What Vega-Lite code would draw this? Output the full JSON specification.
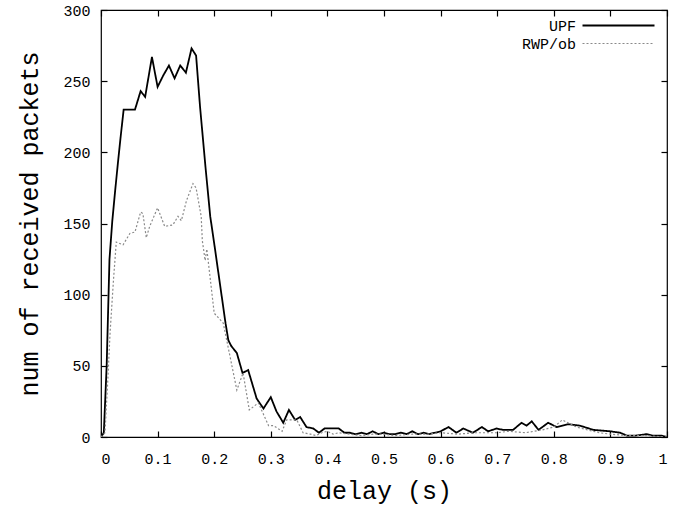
{
  "$schema": "https://vega.github.io/schema/vega-lite/v6.json",
  "width": 566,
  "height": 427,
  "autosize": "none",
  "padding": {"left": 101, "top": 10, "right": 14, "bottom": 69},
  "background": "white",
  "config": {
    "view": {"stroke": "black", "strokeWidth": 1.2},
    "font": "Liberation Mono",
    "axis": {"grid": false, "domain": false, "tickColor": "black", "tickWidth": 1.2, "labelColor": "black", "titleColor": "black", "labelFont": "Liberation Mono", "titleFont": "Liberation Mono", "labelFontWeight": "normal", "titleFontWeight": "normal"}
  },
  "datasets": {
    "pts": [
      {"delay": 0, "n": 0, "s": "UPF"}, {"delay": 0.005, "n": 3, "s": "UPF"}, {"delay": 0.01, "n": 50, "s": "UPF"}, {"delay": 0.015, "n": 125, "s": "UPF"}, {"delay": 0.02, "n": 152, "s": "UPF"}, {"delay": 0.025, "n": 173, "s": "UPF"}, {"delay": 0.03, "n": 193, "s": "UPF"}, {"delay": 0.035, "n": 212, "s": "UPF"}, {"delay": 0.04, "n": 230, "s": "UPF"}, {"delay": 0.05, "n": 230, "s": "UPF"}, {"delay": 0.06, "n": 230, "s": "UPF"}, {"delay": 0.07, "n": 243, "s": "UPF"}, {"delay": 0.078, "n": 239, "s": "UPF"}, {"delay": 0.09, "n": 267, "s": "UPF"}, {"delay": 0.1, "n": 246, "s": "UPF"}, {"delay": 0.11, "n": 254, "s": "UPF"}, {"delay": 0.12, "n": 261, "s": "UPF"}, {"delay": 0.13, "n": 252, "s": "UPF"}, {"delay": 0.14, "n": 261, "s": "UPF"}, {"delay": 0.15, "n": 256, "s": "UPF"}, {"delay": 0.16, "n": 273, "s": "UPF"}, {"delay": 0.168, "n": 268, "s": "UPF"}, {"delay": 0.175, "n": 232, "s": "UPF"}, {"delay": 0.185, "n": 188, "s": "UPF"}, {"delay": 0.193, "n": 155, "s": "UPF"}, {"delay": 0.2, "n": 136, "s": "UPF"}, {"delay": 0.21, "n": 108, "s": "UPF"}, {"delay": 0.22, "n": 80, "s": "UPF"}, {"delay": 0.225, "n": 68, "s": "UPF"}, {"delay": 0.23, "n": 64, "s": "UPF"}, {"delay": 0.24, "n": 59, "s": "UPF"}, {"delay": 0.25, "n": 45, "s": "UPF"}, {"delay": 0.26, "n": 47, "s": "UPF"}, {"delay": 0.275, "n": 27, "s": "UPF"}, {"delay": 0.287, "n": 20, "s": "UPF"}, {"delay": 0.3, "n": 28, "s": "UPF"}, {"delay": 0.31, "n": 18, "s": "UPF"}, {"delay": 0.322, "n": 10, "s": "UPF"}, {"delay": 0.332, "n": 19, "s": "UPF"}, {"delay": 0.343, "n": 12, "s": "UPF"}, {"delay": 0.352, "n": 14, "s": "UPF"}, {"delay": 0.363, "n": 7, "s": "UPF"}, {"delay": 0.375, "n": 6, "s": "UPF"}, {"delay": 0.385, "n": 3, "s": "UPF"}, {"delay": 0.395, "n": 6, "s": "UPF"}, {"delay": 0.42, "n": 6, "s": "UPF"}, {"delay": 0.43, "n": 3, "s": "UPF"}, {"delay": 0.44, "n": 3, "s": "UPF"}, {"delay": 0.45, "n": 2, "s": "UPF"}, {"delay": 0.46, "n": 3, "s": "UPF"}, {"delay": 0.47, "n": 2, "s": "UPF"}, {"delay": 0.48, "n": 4, "s": "UPF"}, {"delay": 0.49, "n": 2, "s": "UPF"}, {"delay": 0.5, "n": 3, "s": "UPF"}, {"delay": 0.51, "n": 2, "s": "UPF"}, {"delay": 0.52, "n": 2, "s": "UPF"}, {"delay": 0.53, "n": 3, "s": "UPF"}, {"delay": 0.54, "n": 2, "s": "UPF"}, {"delay": 0.55, "n": 4, "s": "UPF"}, {"delay": 0.56, "n": 2, "s": "UPF"}, {"delay": 0.57, "n": 3, "s": "UPF"}, {"delay": 0.58, "n": 2, "s": "UPF"}, {"delay": 0.59, "n": 3, "s": "UPF"}, {"delay": 0.6, "n": 4, "s": "UPF"}, {"delay": 0.614, "n": 7, "s": "UPF"}, {"delay": 0.628, "n": 3, "s": "UPF"}, {"delay": 0.64, "n": 6, "s": "UPF"}, {"delay": 0.657, "n": 3, "s": "UPF"}, {"delay": 0.673, "n": 7, "s": "UPF"}, {"delay": 0.684, "n": 4, "s": "UPF"}, {"delay": 0.699, "n": 6, "s": "UPF"}, {"delay": 0.71, "n": 5, "s": "UPF"}, {"delay": 0.728, "n": 5, "s": "UPF"}, {"delay": 0.743, "n": 10, "s": "UPF"}, {"delay": 0.752, "n": 8, "s": "UPF"}, {"delay": 0.761, "n": 11, "s": "UPF"}, {"delay": 0.773, "n": 5, "s": "UPF"}, {"delay": 0.79, "n": 10, "s": "UPF"}, {"delay": 0.805, "n": 7, "s": "UPF"}, {"delay": 0.826, "n": 9, "s": "UPF"}, {"delay": 0.846, "n": 8, "s": "UPF"}, {"delay": 0.87, "n": 5, "s": "UPF"}, {"delay": 0.9, "n": 4, "s": "UPF"}, {"delay": 0.917, "n": 3, "s": "UPF"}, {"delay": 0.929, "n": 1, "s": "UPF"}, {"delay": 0.945, "n": 1, "s": "UPF"}, {"delay": 0.964, "n": 2, "s": "UPF"}, {"delay": 0.975, "n": 1, "s": "UPF"}, {"delay": 0.99, "n": 1, "s": "UPF"}, {"delay": 1, "n": 0, "s": "UPF"},
      {"delay": 0, "n": 0, "s": "RWP/ob"}, {"delay": 0.007, "n": 3, "s": "RWP/ob"}, {"delay": 0.012, "n": 40, "s": "RWP/ob"}, {"delay": 0.016, "n": 73, "s": "RWP/ob"}, {"delay": 0.022, "n": 110, "s": "RWP/ob"}, {"delay": 0.027, "n": 137, "s": "RWP/ob"}, {"delay": 0.039, "n": 135, "s": "RWP/ob"}, {"delay": 0.051, "n": 143, "s": "RWP/ob"}, {"delay": 0.06, "n": 144, "s": "RWP/ob"}, {"delay": 0.07, "n": 158, "s": "RWP/ob"}, {"delay": 0.074, "n": 157, "s": "RWP/ob"}, {"delay": 0.08, "n": 140, "s": "RWP/ob"}, {"delay": 0.086, "n": 148, "s": "RWP/ob"}, {"delay": 0.1, "n": 161, "s": "RWP/ob"}, {"delay": 0.1125, "n": 148, "s": "RWP/ob"}, {"delay": 0.127, "n": 149, "s": "RWP/ob"}, {"delay": 0.136, "n": 155, "s": "RWP/ob"}, {"delay": 0.142, "n": 152, "s": "RWP/ob"}, {"delay": 0.151, "n": 166, "s": "RWP/ob"}, {"delay": 0.1625, "n": 178, "s": "RWP/ob"}, {"delay": 0.168, "n": 175, "s": "RWP/ob"}, {"delay": 0.177, "n": 155, "s": "RWP/ob"}, {"delay": 0.179, "n": 138, "s": "RWP/ob"}, {"delay": 0.184, "n": 124, "s": "RWP/ob"}, {"delay": 0.187, "n": 132, "s": "RWP/ob"}, {"delay": 0.2, "n": 87, "s": "RWP/ob"}, {"delay": 0.216, "n": 80, "s": "RWP/ob"}, {"delay": 0.24, "n": 33, "s": "RWP/ob"}, {"delay": 0.251, "n": 45, "s": "RWP/ob"}, {"delay": 0.262, "n": 19, "s": "RWP/ob"}, {"delay": 0.278, "n": 24, "s": "RWP/ob"}, {"delay": 0.296, "n": 8, "s": "RWP/ob"}, {"delay": 0.305, "n": 8, "s": "RWP/ob"}, {"delay": 0.32, "n": 4, "s": "RWP/ob"}, {"delay": 0.328, "n": 12, "s": "RWP/ob"}, {"delay": 0.346, "n": 12, "s": "RWP/ob"}, {"delay": 0.357, "n": 3, "s": "RWP/ob"}, {"delay": 0.37, "n": 2, "s": "RWP/ob"}, {"delay": 0.38, "n": 1, "s": "RWP/ob"}, {"delay": 0.39, "n": 3, "s": "RWP/ob"}, {"delay": 0.4, "n": 4, "s": "RWP/ob"}, {"delay": 0.41, "n": 2, "s": "RWP/ob"}, {"delay": 0.42, "n": 3, "s": "RWP/ob"}, {"delay": 0.44, "n": 2, "s": "RWP/ob"}, {"delay": 0.46, "n": 1, "s": "RWP/ob"}, {"delay": 0.48, "n": 2, "s": "RWP/ob"}, {"delay": 0.5, "n": 2, "s": "RWP/ob"}, {"delay": 0.52, "n": 1, "s": "RWP/ob"}, {"delay": 0.55, "n": 2, "s": "RWP/ob"}, {"delay": 0.58, "n": 2, "s": "RWP/ob"}, {"delay": 0.6, "n": 3, "s": "RWP/ob"}, {"delay": 0.63, "n": 2, "s": "RWP/ob"}, {"delay": 0.66, "n": 3, "s": "RWP/ob"}, {"delay": 0.7, "n": 3, "s": "RWP/ob"}, {"delay": 0.72, "n": 4, "s": "RWP/ob"}, {"delay": 0.75, "n": 3, "s": "RWP/ob"}, {"delay": 0.78, "n": 5, "s": "RWP/ob"}, {"delay": 0.8, "n": 7, "s": "RWP/ob"}, {"delay": 0.815, "n": 12, "s": "RWP/ob"}, {"delay": 0.825, "n": 10, "s": "RWP/ob"}, {"delay": 0.84, "n": 7, "s": "RWP/ob"}, {"delay": 0.86, "n": 5, "s": "RWP/ob"}, {"delay": 0.88, "n": 3, "s": "RWP/ob"}, {"delay": 0.9, "n": 2, "s": "RWP/ob"}, {"delay": 0.93, "n": 1, "s": "RWP/ob"}, {"delay": 0.96, "n": 1, "s": "RWP/ob"}, {"delay": 1, "n": 0, "s": "RWP/ob"}
    ]
  },
  "data": {"name": "pts"},
  "layer": [
    {
      "mark": {"type": "line", "clip": true},
      "encoding": {
        "x": {"field": "delay", "type": "quantitative", "scale": {"domain": [0, 1], "nice": false, "zero": false},
          "axis": {"orient": "bottom", "title": "delay (s)", "values": [0, 0.1, 0.2, 0.3, 0.4, 0.5, 0.6, 0.7, 0.8, 0.9, 1], "tickSize": -6, "labelPadding": 20, "labelDx": 6, "labelFontSize": 15, "titleFontSize": 25, "titlePadding": 12, "labelExpr": "datum.value == 1 ? '1' : (datum.value == 0 ? '0' : format(datum.value, '.1f'))"}},
        "y": {"field": "n", "type": "quantitative", "scale": {"domain": [0, 300], "nice": false},
          "axis": {"orient": "left", "title": "num of received packets", "values": [0, 50, 100, 150, 200, 250, 300], "tickSize": -6, "labelPadding": 17, "labelFontSize": 15, "titleFontSize": 25, "titlePadding": 20}},
        "color": {"field": "s", "type": "nominal", "scale": {"domain": ["UPF", "RWP/ob"], "range": ["#000000", "#8a8a8a"]},
          "legend": {"title": null, "orient": "none", "legendX": 510, "legendY": 8, "padding": 0, "symbolType": "M-6,0H6", "symbolSize": 144, "symbolStrokeWidth": 1.5, "labelFontSize": 15, "labelFont": "Liberation Mono", "labelColor": "black", "labelAlign": "right", "labelOffset": -50, "rowPadding": 2}},
        "strokeDash": {"field": "s", "type": "nominal", "scale": {"domain": ["UPF", "RWP/ob"], "range": [[1, 0], [2, 2]]}, "legend": null},
        "strokeWidth": {"field": "s", "type": "nominal", "scale": {"domain": ["UPF", "RWP/ob"], "range": [1.8, 1.2]}, "legend": null}
      }
    },
    {
      "mark": {"type": "line", "opacity": 0},
      "encoding": {
        "x": {"field": "delay", "type": "quantitative", "axis": {"orient": "top", "title": null, "labels": false, "values": [0, 0.1, 0.2, 0.3, 0.4, 0.5, 0.6, 0.7, 0.8, 0.9, 1], "tickSize": -6}},
        "y": {"field": "n", "type": "quantitative", "axis": {"orient": "right", "title": null, "labels": false, "values": [0, 50, 100, 150, 200, 250, 300], "tickSize": -6}},
        "detail": {"field": "s", "type": "nominal"}
      }
    }
  ],
  "resolve": {"axis": {"x": "independent", "y": "independent"}}
}
